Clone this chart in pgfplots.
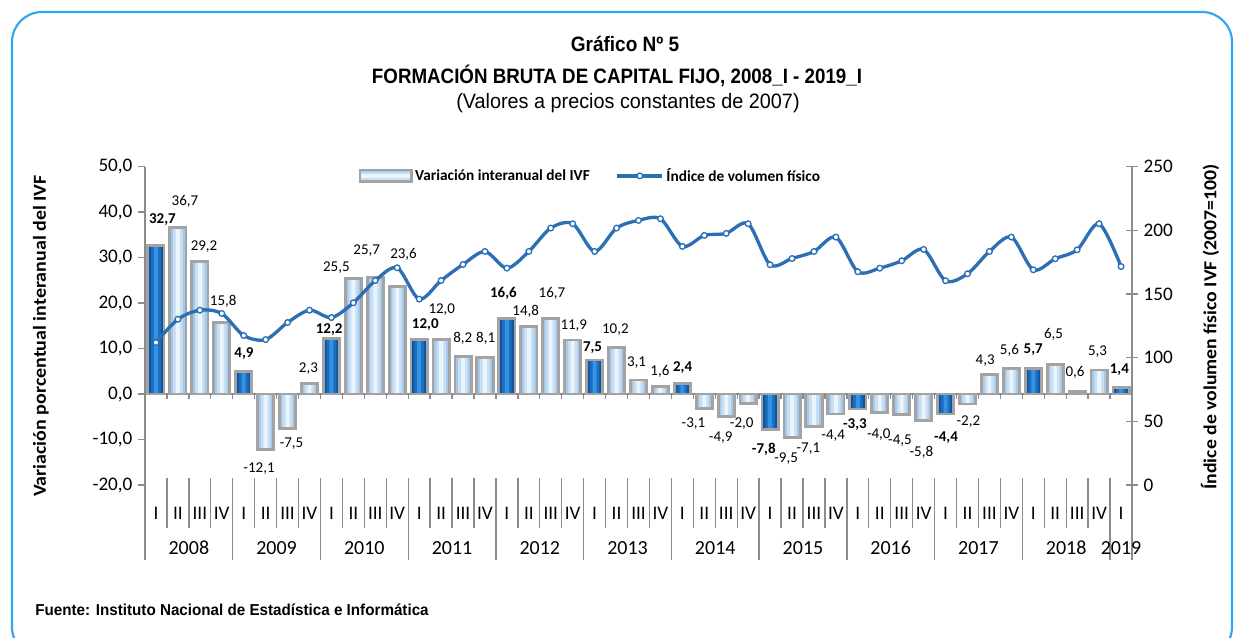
\documentclass[border=0pt]{standalone}
\usepackage{pgfplots}
\pgfplotsset{compat=1.18}
\usepackage{pgfplotstable}
\usepackage{graphicx}
\usepackage{fontspec}
\setmainfont{Carlito}
\newfontfamily\arialfont{Liberation Sans}

\definecolor{linecol}{HTML}{2C6FB4}
\definecolor{framecol}{HTML}{33A6F0}
\definecolor{lightedge}{HTML}{A5C9E9}
\definecolor{lightmid}{HTML}{C8DFF3}
\definecolor{lightcen}{HTML}{EAF4FC}
\definecolor{darkedge}{HTML}{0E559E}
\definecolor{darkmid}{HTML}{1B6FC0}
\definecolor{darkcen}{HTML}{3592E2}
\definecolor{bord}{HTML}{A3A3A3}
\definecolor{axgray}{HTML}{8C8C8C}

\pgfplotstableread{
x y lab dx dy
1 36.7 36,7 7.1 25.6
2 29.2 29,2 4.2 14.5
3 15.8 15,8 1.5 20.5
5 -12.1 -12,1 -6.6 -19.3
6 -7.5 -7,5 4 -15.3
7 2.3 2,3 -1.1 15.2
9 25.5 25,5 -17 11
10 25.7 25,7 -8.6 27
11 23.6 23,6 6.3 32.8
13 12.0 12,0 0.7 30
14 8.2 8,2 -0.2 18.4
15 8.1 8,1 0.7 19
17 14.8 14,8 -3.1 15.5
18 16.7 16,7 1.2 25
19 11.9 11,9 1.1 14
21 10.2 10,2 -1.2 17.7
22 3.1 3,1 -1.9 17.3
23 1.6 1,6 -0.5 15
25 -3.1 -3,1 -10.8 -15.2
26 -4.9 -4,9 -5.5 -21
27 -2.0 -2,0 -6.4 -20.2
29 -9.5 -9,5 -5.9 -21
30 -7.1 -7,1 -5.6 -22
31 -4.4 -4,4 -2.7 -22
33 -4.0 -4,0 -1 -22
34 -4.5 -4,5 -1.7 -26.3
35 -5.8 -5,8 -2.3 -31.4
37 -2.2 -2,2 0.9 -17.7
38 4.3 4,3 -4.3 13.8
39 5.6 5,6 -1.9 18.6
41 6.5 6,5 -1.7 30.5
42 0.6 0,6 -2.1 18.6
43 5.3 5,3 -1.5 18.2
}\lightdata

\pgfplotstableread{
x y lab dx dy
0 32.7 32,7 6.5 25.4
4 4.9 4,9 0.3 17.7
8 12.2 12,2 -2.3 8.6
12 12.0 12,0 6.1 14.5
16 16.6 16,6 -3.5 25
20 7.5 7,5 -2.1 12
24 2.4 2,4 0.3 15.8
28 -7.8 -7,8 -6.3 -20
32 -3.3 -3,3 -2.9 -16
36 -4.4 -4,4 0.5 -23.3
40 5.7 5,7 -0.1 18
44 1.4 1,4 -1.7 18.3
}\darkdata

\pgfplotstableread{
x y
0 111.9
1 130.2
2 137.3
3 134.7
4 117.4
5 114.2
6 127.6
7 137.3
8 131.5
9 143.1
10 160.6
11 170.6
12 146.0
13 160.6
14 173.2
15 183.4
16 170.3
17 183.4
18 201.8
19 205.2
20 183.4
21 201.8
22 207.8
23 209.1
24 187.4
25 196.0
26 197.6
27 205.2
28 173.0
29 177.9
30 183.4
31 194.7
32 167.5
33 170.3
34 176.1
35 185.0
36 160.4
37 165.9
38 183.4
39 194.7
40 169.0
41 177.7
42 184.7
43 205.2
44 171.6
}\linedata

\pgfplotsset{
  barbase/.style={ybar, bar shift=0pt, bar width=0.74, draw=none},
  barband/.style={ybar, bar shift=0pt, bar width=0.44, draw=none},
  barcore/.style={ybar, bar shift=0pt, bar width=0.18, draw=none},
  barframe/.style={ybar, bar shift=0pt, bar width=0.74, draw=bord, fill=none, line width=1.7pt},
}

\begin{document}
\begin{tikzpicture}[x=0.6pt,y=0.6pt]
\useasboundingbox (0,0) rectangle (1237,637);
\draw[framecol, line width=1.3pt, rounded corners=18pt] (12,-20) rectangle (1232,625);

% titles
\node[font=\arialfont\bfseries\fontsize{12.5}{14}\selectfont] at (625,593) {\resizebox{65pt}{\height}{Gráfico Nº 5}};
\node[font=\arialfont\bfseries\fontsize{12.5}{14}\selectfont] at (617,561) {\resizebox{294pt}{\height}{FORMACIÓN BRUTA DE CAPITAL FIJO, 2008\_I - 2019\_I}};
\node[font=\arialfont\fontsize{12.5}{14}\selectfont] at (628,534) {\resizebox{206pt}{\height}{(Valores a precios constantes de 2007)}};
\node[font=\arialfont\bfseries\fontsize{9.5}{11}\selectfont, anchor=west, inner sep=0pt] at (35,27) {\resizebox{236pt}{\height}{Fuente: Instituto Nacional de Estadística e Informática}};

% axis titles
\node[rotate=90, font=\bfseries\fontsize{11}{12}\selectfont] at (41,301) {\resizebox{193pt}{\height}{Variación porcentual interanual del IVF}};
\node[rotate=90, font=\bfseries\fontsize{11}{12}\selectfont] at (1210,310) {\resizebox{195pt}{\height}{Índice de volumen físico IVF (2007=100)}};

\begin{axis}[
  at={(87pt,91.2pt)}, anchor=south west,
  scale only axis, width=592.2pt, height=191pt,
  xmin=-0.5, xmax=44.5, ymin=-20, ymax=50,
  clip=false,
  axis y line*=left, axis x line*=bottom,
  x axis line style={draw=none},
  y axis line style={draw=axgray, line width=0.8pt},
  ytick={-20,-10,...,50},
  ytick style={draw=axgray, line width=0.8pt},
  tick align=outside, major tick length=4pt,
  yticklabel style={font=\fontsize{11.5}{13}\selectfont, /pgf/number format/.cd, fixed, fixed zerofill, precision=1, use comma},
  /pgf/number format/assume math mode=true,
  xtick={0,...,44},
  xtick style={draw=none},
  xticklabels={I,II,III,IV,I,II,III,IV,I,II,III,IV,I,II,III,IV,I,II,III,IV,I,II,III,IV,I,II,III,IV,I,II,III,IV,I,II,III,IV,I,II,III,IV,I,II,III,IV,I},
  xticklabel style={font=\fontsize{11.5}{13}\selectfont, anchor=center, yshift=-13.2pt},
]
% zero line with ticks
\draw[axgray, line width=0.8pt] (axis cs:-0.5,0) -- (axis cs:44.5,0);
\pgfplotsinvokeforeach{-0.5,0.5,...,44.5}{
  \draw[axgray, line width=0.8pt] (axis cs:#1,0) -- (axis cs:#1,-1.1);
}
% category separators
\pgfplotsinvokeforeach{0.5,1.5,...,43.5}{
  \draw[axgray, line width=0.8pt] (axis cs:#1,-18.5) -- (axis cs:#1,-29.5);
}
\pgfplotsinvokeforeach{-0.5,3.5,...,43.5}{
  \draw[axgray, line width=0.8pt] (axis cs:#1,-18.5) -- (axis cs:#1,-36.5);
}
\draw[axgray, line width=0.8pt] (axis cs:44.5,-18.5) -- (axis cs:44.5,-36.5);
% years
\node[font=\fontsize{12}{13}\selectfont] at (axis cs:1.5,-33.9) {2008};
\node[font=\fontsize{12}{13}\selectfont] at (axis cs:5.5,-33.9) {2009};
\node[font=\fontsize{12}{13}\selectfont] at (axis cs:9.5,-33.9) {2010};
\node[font=\fontsize{12}{13}\selectfont] at (axis cs:13.5,-33.9) {2011};
\node[font=\fontsize{12}{13}\selectfont] at (axis cs:17.5,-33.9) {2012};
\node[font=\fontsize{12}{13}\selectfont] at (axis cs:21.5,-33.9) {2013};
\node[font=\fontsize{12}{13}\selectfont] at (axis cs:25.5,-33.9) {2014};
\node[font=\fontsize{12}{13}\selectfont] at (axis cs:29.5,-33.9) {2015};
\node[font=\fontsize{12}{13}\selectfont] at (axis cs:33.5,-33.9) {2016};
\node[font=\fontsize{12}{13}\selectfont] at (axis cs:37.5,-33.9) {2017};
\node[font=\fontsize{12}{13}\selectfont] at (axis cs:41.5,-33.9) {2018};
\node[font=\fontsize{12}{13}\selectfont] at (axis cs:44,-33.9) {2019};

% light bars (layered for the bevel look)
\addplot[barbase, fill=lightedge] table[x=x,y=y]{\lightdata};
\addplot[barband, fill=lightmid] table[x=x,y=y]{\lightdata};
\addplot[barcore, fill=lightcen] table[x=x,y=y]{\lightdata};
\addplot[barframe] table[x=x,y=y]{\lightdata};
% dark bars
\addplot[barbase, fill=darkedge] table[x=x,y=y]{\darkdata};
\addplot[barband, fill=darkmid] table[x=x,y=y]{\darkdata};
\addplot[barcore, fill=darkcen] table[x=x,y=y]{\darkdata};
\addplot[barframe] table[x=x,y=y]{\darkdata};
% value labels (offset from bar ends, in pixels of the reference)
\addplot[draw=none, mark=none, nodes near coords, point meta=explicit symbolic,
  every node near coord/.style={anchor=center, font=\fontsize{9}{10}\selectfont, text=black, inner sep=0pt}]
  table[x expr=\thisrow{x}+\thisrow{dx}/21.93, y expr=\thisrow{y}+\thisrow{dy}/4.547, meta=lab]{\lightdata};
\addplot[draw=none, mark=none, nodes near coords, point meta=explicit symbolic,
  every node near coord/.style={anchor=center, font=\bfseries\fontsize{9}{10}\selectfont, text=black, inner sep=0pt}]
  table[x expr=\thisrow{x}+\thisrow{dx}/21.93, y expr=\thisrow{y}+\thisrow{dy}/4.547, meta=lab]{\darkdata};
\end{axis}

\begin{axis}[
  at={(87pt,91.2pt)}, anchor=south west,
  scale only axis, width=592.2pt, height=191pt,
  xmin=-0.5, xmax=44.5, ymin=0, ymax=250,
  axis y line*=right, axis x line=none,
  y axis line style={draw=axgray, line width=0.8pt},
  ytick={0,50,...,250},
  ytick style={draw=axgray, line width=0.8pt},
  tick align=center, major tick length=7pt,
  yticklabel style={font=\fontsize{11.5}{13}\selectfont},
  /pgf/number format/assume math mode=true,
  legend columns=2,
  legend style={at={(rel axis cs:0.211,0.971)}, anchor=west, draw=none, fill=none,
    font=\bfseries\fontsize{9.2}{11}\selectfont,
    /tikz/every even column/.append style={column sep=14pt},
    nodes={inner sep=1.5pt}},
]
\addlegendimage{legend image code/.code={
  \fill[lightedge] (0pt,-3.4pt) rectangle (31pt,3.4pt);
  \fill[lightmid] (0pt,-2pt) rectangle (31pt,2pt);
  \fill[lightcen] (0pt,-0.8pt) rectangle (31pt,0.8pt);
  \draw[bord, line width=1.4pt] (0pt,-3.4pt) rectangle (31pt,3.4pt);}}
\addlegendentry{Variación interanual del IVF}
\addplot[linecol, line width=2pt, smooth, mark=*, mark size=1.7pt,
  mark options={fill=white, draw=linecol, line width=0.8pt},
  legend image code/.code={\draw[linecol, line width=2pt] (0pt,0pt) -- (27pt,0pt); \draw[linecol, fill=white, line width=0.8pt] (13.5pt,0pt) circle (1.7pt);}]
  table[x=x,y=y]{\linedata};
\addlegendentry{Índice de volumen físico}
\end{axis}
\end{tikzpicture}
\end{document}
